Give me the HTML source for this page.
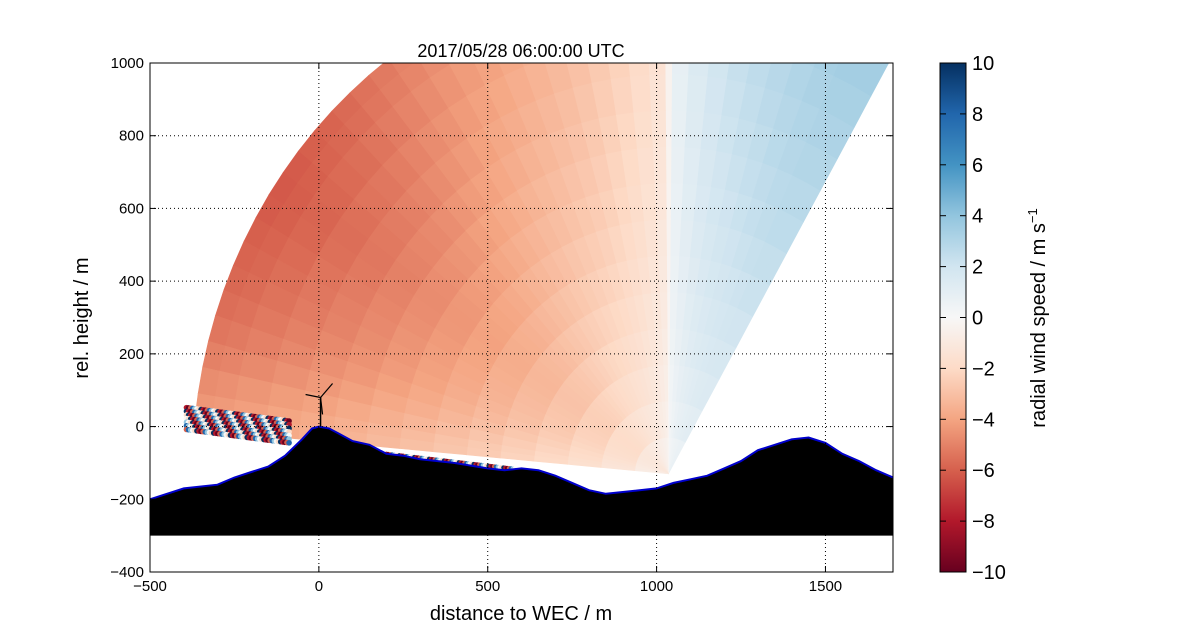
<!DOCTYPE html>
<html><head><meta charset="utf-8"><style>
body{margin:0;background:#fff;}
svg{display:block;font-family:"Liberation Sans",sans-serif;}
</style></head><body>
<svg id="chart" width="1200" height="636" viewBox="0 0 1200 636" xmlns="http://www.w3.org/2000/svg">
<defs>
<clipPath id="plotclip"><rect x="150" y="63" width="743" height="509"/></clipPath>
<linearGradient id="cbgrad" x1="0" y1="1" x2="0" y2="0">
<stop offset="0" stop-color="#67001f"/><stop offset="0.1" stop-color="#b2182b"/><stop offset="0.2" stop-color="#d6604d"/><stop offset="0.3" stop-color="#f4a582"/><stop offset="0.4" stop-color="#fddbc7"/><stop offset="0.5" stop-color="#f7f7f7"/><stop offset="0.6" stop-color="#d1e5f0"/><stop offset="0.7" stop-color="#92c5de"/><stop offset="0.8" stop-color="#4393c3"/><stop offset="0.9" stop-color="#2166ac"/><stop offset="1" stop-color="#053061"/>
</linearGradient>
</defs>
<g id="fan" clip-path="url(#plotclip)"></g>
<g id="noise" clip-path="url(#plotclip)"></g>
<g id="terrain" clip-path="url(#plotclip)"></g>
<g id="grid"></g>
<g id="turbine"></g>
<rect x="150" y="63" width="743" height="509" fill="none" stroke="#000" stroke-width="1"/>
<g id="ticks"></g>
<text x="521" y="57" text-anchor="middle" font-size="18">2017/05/28 06:00:00 UTC</text>
<text x="521" y="620" text-anchor="middle" font-size="20">distance to WEC / m</text>
<text transform="translate(88,318) rotate(-90)" text-anchor="middle" font-size="20">rel. height / m</text>
<rect x="940" y="63" width="26" height="509" fill="url(#cbgrad)" stroke="#000"/>
<g id="cbticks"></g>
<text transform="translate(1045,318) rotate(-90)" text-anchor="middle" font-size="20">radial wind speed / m s<tspan dy="-8" font-size="13">−1</tspan></text>
</svg>
<script>
const xTicks=[-500,0,500,1000,1500];
const yTicks=[-400,-200,0,200,400,600,800,1000];
const cbTicks=[-10,-8,-6,-4,-2,0,2,4,6,8,10];
const beamAngles=[60,63,66,69,72,75,78,81,84,87,89.5,90.5,93,96,99,102,105,108,111,114,117,120,123,126,129,132,135,138,141,144,147,150,153,156,159,162,165,168,171,173,175];
const beamValues=[3,3.1,3,2.9,2.7,2.5,2.3,2,1.6,1.1,0.5,-1.2,-1.6,-2,-2.3,-2.6,-2.9,-3.1,-3.3,-3.5,-3.7,-3.9,-4.1,-4.3,-4.5,-4.7,-4.9,-5,-5.1,-5.2,-5.2,-5.1,-5,-4.9,-4.8,-4.6,-4.4,-4.1,-3.8,-3.6,-3.5];
const rangeGates=[0,100,200,300,400,500,600,700,800,900,1000,1100,1200,1300,1360,1410];
const rangeFactor=[0.15,0.3,0.42,0.52,0.6,0.68,0.75,0.82,0.88,0.94,1.0,1.05,1.1,1.15,1.18,1.2];
const terrainX=[-500,-450,-400,-300,-250,-200,-150,-100,-50,-20,0,30,60,100,150,200,250,300,400,500,550,600,650,700,750,800,850,900,1000,1050,1100,1150,1200,1250,1300,1350,1400,1450,1500,1550,1600,1650,1700];
const terrainY=[-200,-185,-170,-160,-140,-125,-110,-80,-35,-5,0,-5,-20,-40,-50,-75,-80,-90,-100,-115,-120,-115,-120,-135,-155,-175,-185,-180,-170,-155,-145,-135,-115,-95,-65,-50,-35,-30,-45,-75,-95,-120,-140];
const NS='http://www.w3.org/2000/svg';
const X=v=>150+(v+500)*743/2200, Y=v=>572-(v+400)*509/1400;
const cmap=['#67001f','#b2182b','#d6604d','#f4a582','#fddbc7','#f7f7f7','#d1e5f0','#92c5de','#4393c3','#2166ac','#053061'];
function hx(c){return [1,3,5].map(i=>parseInt(c.substr(i,2),16));}
function color(v){v=Math.max(-10,Math.min(10,v));let t=(v+10)/2,i=Math.min(9,Math.floor(t)),f=t-i;const a=hx(cmap[i]),b=hx(cmap[i+1]);return 'rgb('+a.map((q,k)=>Math.round(q+(b[k]-q)*f)).join(',')+')';}
function el(tag,attrs,parent){const e=document.createElementNS(NS,tag);for(const k in attrs)e.setAttribute(k,attrs[k]);parent.appendChild(e);return e;}
const ox=1035,oy=-130;
const fan=document.getElementById('fan');
for(let i=0;i<beamAngles.length-1;i++){
 const a0=beamAngles[i]*Math.PI/180,a1=beamAngles[i+1]*Math.PI/180;
 for(let j=0;j<rangeGates.length-1;j++){
  const r0=rangeGates[j],r1=rangeGates[j+1];
  const v=(beamValues[i]+beamValues[i+1])/2*(rangeFactor[j]+rangeFactor[j+1])/2;
  const pts=[[r0,a0],[r1,a0],[r1,a1],[r0,a1]].map(([r,a])=>X(ox+r*Math.cos(a)).toFixed(1)+','+Y(oy+r*Math.sin(a)).toFixed(1)).join(' ');
  const p=el('polygon',{points:pts,fill:color(v),stroke:color(v),'stroke-width':0.6},fan);
  
  
 }
}
const noise=document.getElementById('noise');
const noiseCols=['#b2182b','#2166ac','#fddbc7','#67001f','#92c5de','#053061','#d6604d','#f7f7f7'];
for(let k=0;k<7;k++)for(let i=0;i<50;i++){
 const x=-392+i*6.2,yy=52-k*10-i*0.75;
 const c=el('circle',{cx:X(x),cy:Y(yy),r:2.8,fill:noiseCols[(i*3+k*5)%8]},noise);
 
 
}
for(let i=0;i<70;i++){
 const x=200+i*5.5,yy=-75-i*0.6;
 const c=el('circle',{cx:X(x),cy:Y(yy),r:2.2,fill:noiseCols[(i*3)%8]},noise);
 
 
}
const terr=document.getElementById('terrain');
let d='M'+X(terrainX[0])+','+Y(-300);
terrainX.forEach((x,i)=>d+=' L'+X(x).toFixed(1)+','+Y(terrainY[i]).toFixed(1));
d+=' L'+X(1700)+','+Y(-300)+' Z';
const tp=el('path',{d:d,fill:'#000'},terr);


let d2='M'+terrainX.map((x,i)=>X(x).toFixed(1)+','+Y(terrainY[i]).toFixed(1)).join(' L');
const tl=el('path',{d:d2,fill:'none',stroke:'#0000cc','stroke-width':2},terr);


const grid=document.getElementById('grid'),ticks=document.getElementById('ticks');
xTicks.forEach(v=>{
 const g=el('line',{x1:X(v),x2:X(v),y1:63,y2:572,stroke:'#000','stroke-dasharray':'1,3','stroke-width':1},grid);
 
 el('line',{x1:X(v),x2:X(v),y1:572,y2:566,stroke:'#000'},ticks);
 el('line',{x1:X(v),x2:X(v),y1:63,y2:69,stroke:'#000'},ticks);
 const t=el('text',{x:X(v),y:591,'text-anchor':'middle','font-size':15},ticks);t.textContent=v<0?'−'+(-v):v;
 
});
yTicks.forEach(v=>{
 const g=el('line',{x1:150,x2:893,y1:Y(v),y2:Y(v),stroke:'#000','stroke-dasharray':'1,3','stroke-width':1},grid);
 
 el('line',{x1:150,x2:156,y1:Y(v),y2:Y(v),stroke:'#000'},ticks);
 el('line',{x1:893,x2:887,y1:Y(v),y2:Y(v),stroke:'#000'},ticks);
 const t=el('text',{x:144,y:Y(v)+5,'text-anchor':'end','font-size':15},ticks);t.textContent=v<0?'−'+(-v):v;
 
});
const cbt=document.getElementById('cbticks');
cbTicks.forEach(v=>{
 const y=572-(v+10)/20*509;
 el('line',{x1:960,x2:966,y1:y,y2:y,stroke:'#000'},cbt);
 el('line',{x1:940,x2:946,y1:y,y2:y,stroke:'#000'},cbt);
 const t=el('text',{x:972,y:y+7,'font-size':20},cbt);t.textContent=v<0?'−'+(-v):v;
 
});
const tb=document.getElementById('turbine');
const hx0=X(5),hy0=Y(80);
el('line',{x1:X(5),y1:Y(80),x2:X(5),y2:Y(0),stroke:'#000','stroke-width':1.5},tb);
el('line',{x1:hx0,y1:hy0,x2:hx0+12,y2:hy0-14,stroke:'#000','stroke-width':1.2},tb);
el('line',{x1:hx0,y1:hy0,x2:hx0-15,y2:hy0-3,stroke:'#000','stroke-width':1.2},tb);
el('line',{x1:hx0,y1:hy0,x2:hx0+2,y2:hy0+17,stroke:'#000','stroke-width':1.2},tb);
</script>
</body></html>
